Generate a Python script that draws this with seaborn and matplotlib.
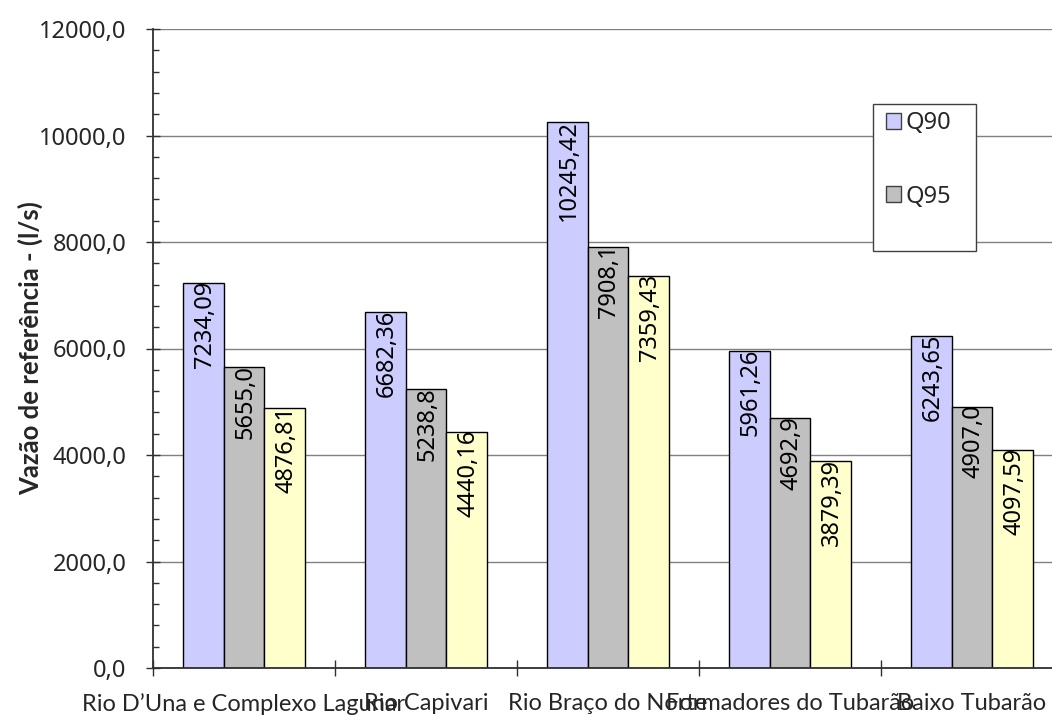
import matplotlib
matplotlib.use("Agg")
import matplotlib.pyplot as plt
import seaborn as sns
import pandas as pd
from matplotlib.patches import Patch, Rectangle
from matplotlib.ticker import MultipleLocator, FuncFormatter

trechos = ["Rio D\u2019Una e Complexo Lagunar", "Rio Capivari", "Rio Bra\u00e7o do Norte",
           "Formadores do Tubar\u00e3o", "Baixo Tubar\u00e3o"]
series = ["Q90", "Q95", "Q98"]
q90 = [7234.09, 6682.36, 10245.42, 5961.26, 6243.65]
q95 = [5655.0, 5238.8, 7908.1, 4692.9, 4907.0]
q98 = [4876.81, 4440.16, 7359.43, 3879.39, 4097.59]
casas = [2, 1, 2]  # casas decimais dos rótulos
cores = ["#CCCCFF", "#C0C0C0", "#FFFFCC"]

df = pd.DataFrame({
    "trecho": trechos * 3,
    "serie": [s for s in series for _ in trechos],
    "vazao": q90 + q95 + q98,
})

sns.set_style("white")
plt.rcParams["font.family"] = ["Noto Sans", "DejaVu Sans"]

fig = plt.figure(figsize=(10.52, 7.15), dpi=100)
ax = fig.add_axes([153 / 1052, 47 / 715, 910 / 1052, 639 / 715])

sns.barplot(data=df, x="trecho", y="vazao", hue="serie", palette=cores,
            width=0.67, edgecolor="black", linewidth=1, saturation=1,
            legend=False, ax=ax)

# rótulos de dados
for cont, vals, nd in zip(ax.containers, [q90, q95, q98], casas):
    for barra, v in zip(cont, vals):
        txt = f"{v:.{nd}f}".replace(".", ",")
        ax.text(barra.get_x() + barra.get_width() / 2 + 0.008, v + 40, txt,
                rotation=90, ha="center", va="top", fontsize=17, color="black")

ax.set_xlim(-0.5, 4.5)
ax.set_ylim(0, 12000)
ax.yaxis.set_major_locator(MultipleLocator(2000))
ax.yaxis.set_minor_locator(MultipleLocator(400))
ax.yaxis.set_major_formatter(FuncFormatter(lambda v, p: f"{v:.1f}".replace(".", ",")))
ax.tick_params(axis="y", which="both", left=True)
ax.tick_params(axis="y", which="major", direction="inout", length=10, width=1,
               labelsize=17, pad=14, color="#303030")
ax.tick_params(axis="y", which="minor", direction="in", length=4.5, width=1, color="#303030")
ax.grid(axis="y", color="#808080", linewidth=1)
ax.set_axisbelow(True)

ax.set_xticks(range(5))
ax.set_xticklabels(trechos, fontsize=17, family=["Lato", "DejaVu Sans"])
ax.set_xticks([i + 0.5 for i in range(-1, 5)], minor=True)
ax.tick_params(axis="x", which="both", bottom=True)
ax.tick_params(axis="x", which="major", length=0, pad=18)
ax.tick_params(axis="x", which="minor", direction="inout", length=11.5, width=1, color="#303030")

ax.set_xlabel("")
ax.set_ylabel("Vaz\u00e3o de refer\u00eancia - (l/s)", fontsize=18.5, fontweight="bold",
              family=["Lato", "DejaVu Sans"])
ax.yaxis.set_label_coords(-0.121, 0.5)

for lado in ["top", "right"]:
    ax.spines[lado].set_visible(False)
for lado in ["left", "bottom"]:
    ax.spines[lado].set_color("#303030")
    ax.spines[lado].set_linewidth(1.3)

# legenda (caixa recortada como no original)
fig.patches.append(Rectangle((873 / 1052, 464 / 715), 103 / 1052, 147 / 715,
                             transform=fig.transFigure, facecolor="white",
                             edgecolor="#404040", linewidth=1, zorder=5))
alcas = [Patch(facecolor=c, edgecolor="#404040", label=s) for c, s in zip(cores[:2], series[:2])]
leg = fig.legend(handles=alcas, loc="upper left", bbox_to_anchor=(886 / 1052, 1 - 111 / 715),
                 frameon=False, fontsize=17, handlelength=0.64, handleheight=0.64,
                 handletextpad=0.2, labelspacing=2.1, borderaxespad=0, borderpad=0)
leg.set_zorder(6)

fig.savefig("out.png", dpi=100)
